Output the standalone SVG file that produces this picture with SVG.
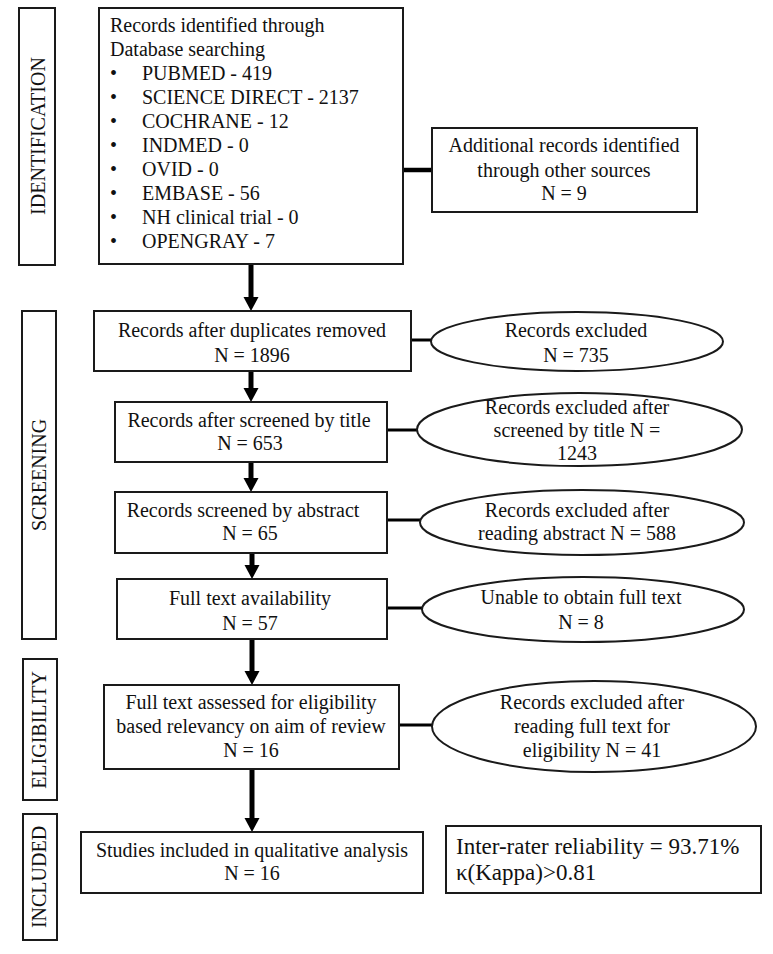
<svg xmlns="http://www.w3.org/2000/svg" width="773" height="954" viewBox="0 0 773 954">
<defs>
<style>
text{font-family:"Liberation Serif","Times New Roman",serif;font-size:20px;fill:#111;}
.c{text-anchor:middle;}
.big{font-size:23px;}
.box{fill:#fff;stroke:#1a1a1a;stroke-width:2;}
.ell{fill:#fff;stroke:#1a1a1a;stroke-width:2;}
.lnk{stroke:#000;stroke-width:3;fill:none;}
.thick{stroke:#000;stroke-width:4.5;fill:none;}
.shaft{stroke:#000;stroke-width:5;fill:none;}
</style>
<marker id="ah" viewBox="0 0 15 14" refX="7.5" refY="14" markerWidth="15" markerHeight="14" markerUnits="userSpaceOnUse" orient="auto-start-reverse">
<path d="M0,0 L15,0 L7.5,14 Z" fill="#000"/>
</marker>
</defs>
<rect width="773" height="954" fill="#fff"/>

<g id="connectors">
<line class="shaft" x1="251" y1="265" x2="251" y2="297"/>
<path d="M243.5,297 L258.5,297 L251,311 Z" fill="#000"/>
<line class="thick" x1="403" y1="170" x2="432" y2="170"/>
<line class="shaft" x1="251" y1="371" x2="251" y2="388"/>
<path d="M243.5,388 L258.5,388 L251,402 Z" fill="#000"/>
<line class="shaft" x1="251" y1="462" x2="251" y2="478"/>
<path d="M243.5,478 L258.5,478 L251,492 Z" fill="#000"/>
<line class="shaft" x1="252" y1="553" x2="252" y2="565"/>
<path d="M244.5,565 L259.5,565 L252,579 Z" fill="#000"/>
<line class="shaft" x1="252" y1="639" x2="252" y2="671"/>
<path d="M244.5,671 L259.5,671 L252,685 Z" fill="#000"/>
<line class="shaft" x1="252" y1="769" x2="252" y2="818"/>
<path d="M244.5,818 L259.5,818 L252,832 Z" fill="#000"/>
<line class="lnk" x1="411" y1="340" x2="431" y2="340"/>
<line class="lnk" x1="387" y1="430" x2="417" y2="430"/>
<line class="lnk" x1="387" y1="520" x2="420" y2="520"/>
<line class="lnk" x1="387" y1="608" x2="422" y2="608"/>
<line class="lnk" x1="399" y1="725" x2="432" y2="725"/>
</g>

<g id="label-identification">
<rect class="box" x="19" y="8" width="36" height="257"/>
<text class="c" transform="translate(45,136) rotate(-90)">IDENTIFICATION</text>
</g>
<g id="label-screening">
<rect class="box" x="22" y="311" width="34" height="328"/>
<text class="c" transform="translate(46,475) rotate(-90)">SCREENING</text>
</g>
<g id="label-eligibility">
<rect class="box" x="23" y="659" width="34" height="141"/>
<text class="c" transform="translate(46,730) rotate(-90)">ELIGIBILITY</text>
</g>
<g id="label-included">
<rect class="box" x="23" y="814" width="34" height="126"/>
<text class="c" transform="translate(46,877) rotate(-90)">INCLUDED</text>
</g>

<g id="node-database">
<rect class="box" x="99" y="8" width="304" height="256"/>
<text x="110" y="32">Records identified through</text>
<text x="110" y="56">Database searching</text>
<text x="110" y="80">•</text><text x="142" y="80">PUBMED - 419</text>
<text x="110" y="104">•</text><text x="142" y="104">SCIENCE DIRECT - 2137</text>
<text x="110" y="128">•</text><text x="142" y="128">COCHRANE - 12</text>
<text x="110" y="152">•</text><text x="142" y="152">INDMED - 0</text>
<text x="110" y="176">•</text><text x="142" y="176">OVID - 0</text>
<text x="110" y="200">•</text><text x="142" y="200">EMBASE - 56</text>
<text x="110" y="224">•</text><text x="142" y="224">NH clinical trial - 0</text>
<text x="110" y="248">•</text><text x="142" y="248">OPENGRAY - 7</text>
</g>

<g id="node-additional">
<rect class="box" x="432" y="128" width="265" height="84"/>
<text class="c" x="564" y="152">Additional records identified</text>
<text class="c" x="564" y="177">through other sources</text>
<text class="c" x="564" y="200">N = 9</text>
</g>

<g id="node-duplicates">
<rect class="box" x="94" y="311" width="317" height="60"/>
<text class="c" x="252" y="337">Records after duplicates removed</text>
<text class="c" x="252" y="362">N = 1896</text>
</g>

<g id="node-excluded">
<ellipse class="ell" cx="577" cy="341.5" rx="146" ry="29.5"/>
<text class="c" x="576" y="337">Records excluded</text>
<text class="c" x="576" y="362">N = 735</text>
</g>

<g id="node-title">
<rect class="box" x="115" y="402" width="272" height="60"/>
<text class="c" x="249" y="427">Records after screened by title</text>
<text class="c" x="250" y="450">N = 653</text>
</g>

<g id="node-excluded-title">
<ellipse class="ell" cx="579.5" cy="429.5" rx="162.5" ry="36.5"/>
<text class="c" x="577" y="414">Records excluded after</text>
<text class="c" x="577" y="437">screened by title N =</text>
<text class="c" x="577" y="460">1243</text>
</g>

<g id="node-abstract">
<rect class="box" x="115" y="492" width="272" height="61"/>
<text class="c" x="243" y="517">Records screened by abstract</text>
<text class="c" x="250" y="540">N = 65</text>
</g>

<g id="node-excluded-abstract">
<ellipse class="ell" cx="582" cy="522.5" rx="162" ry="32.5"/>
<text class="c" x="577" y="517">Records excluded after</text>
<text class="c" x="577" y="540">reading abstract N = 588</text>
</g>

<g id="node-fulltext">
<rect class="box" x="117" y="579" width="270" height="60"/>
<text class="c" x="250" y="605">Full text availability</text>
<text class="c" x="250" y="630">N = 57</text>
</g>

<g id="node-unable">
<ellipse class="ell" cx="583" cy="609.5" rx="161" ry="32.5"/>
<text class="c" x="581" y="604">Unable to obtain full text</text>
<text class="c" x="581" y="629">N = 8</text>
</g>

<g id="node-eligibility">
<rect class="box" x="104" y="685" width="295" height="84"/>
<text class="c" x="251" y="709">Full text assessed for eligibility</text>
<text class="c" x="251" y="733">based relevancy on aim of review</text>
<text class="c" x="251" y="757">N = 16</text>
</g>

<g id="node-excluded-fulltext">
<ellipse class="ell" cx="594" cy="726.5" rx="162" ry="45.5"/>
<text class="c" x="592" y="709">Records excluded after</text>
<text class="c" x="592" y="733">reading full text for</text>
<text class="c" x="592" y="757">eligibility N = 41</text>
</g>

<g id="node-included">
<rect class="box" x="81" y="832" width="342" height="61"/>
<text class="c" x="252" y="857">Studies included in qualitative analysis</text>
<text class="c" x="252" y="880">N = 16</text>
</g>

<g id="node-reliability">
<rect class="box" x="446" y="826" width="315" height="67"/>
<text class="big" x="456" y="854">Inter-rater reliability = 93.71%</text>
<text class="big" x="456" y="880">κ(Kappa)&gt;0.81</text>
</g>
</svg>
